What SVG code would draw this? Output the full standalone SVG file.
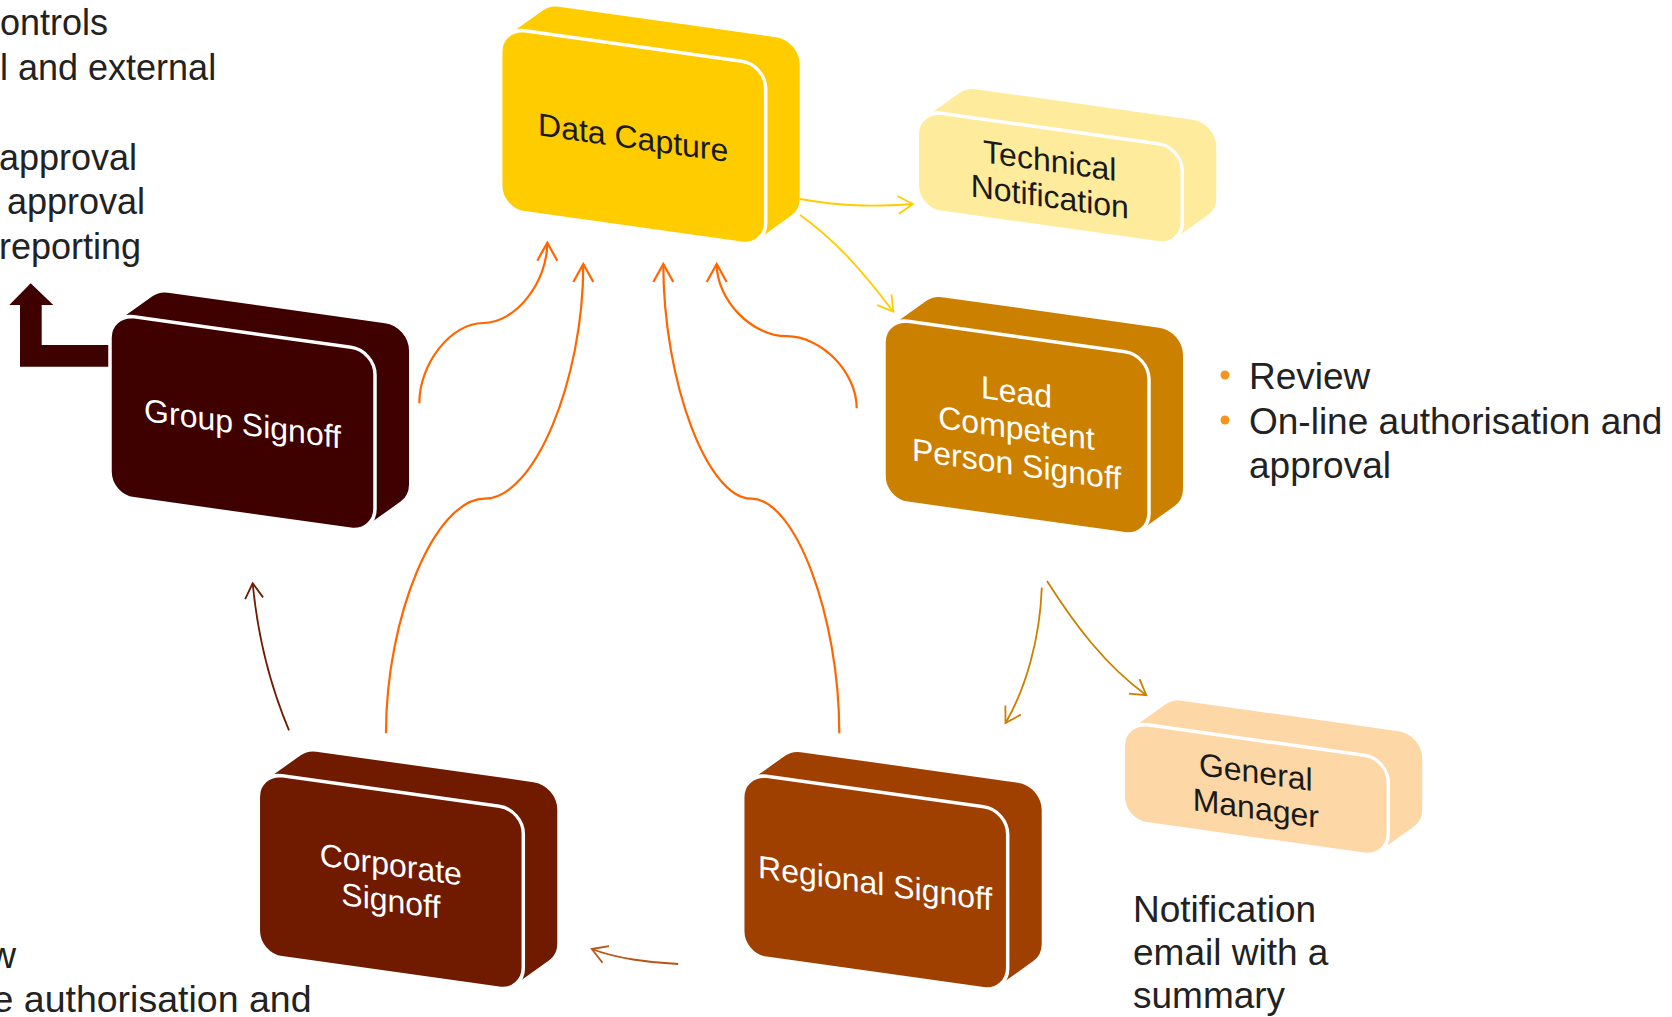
<svg xmlns="http://www.w3.org/2000/svg" width="1672" height="1017" viewBox="0 0 1672 1017">
  <style>
    .lbl{font-family:"Liberation Sans",Arial,sans-serif;font-size:32px;text-anchor:middle}
    .ink{fill:#1a1a1a}
    .rev{fill:#ffffff}
    .note{font-family:"Liberation Sans",Arial,sans-serif;font-size:37px;fill:#222222}
    .side{font-family:"Liberation Sans",Arial,sans-serif;font-size:36px;fill:#222222}
    .curve{fill:none;stroke-width:2.2}
    .thin{fill:none;stroke-width:1.8}
  </style>
  <defs>
    <!-- extruded block: swept hull behind, front face on top with a white seam -->
    <path id="hullBig" d="M24,158 L24,24 L58,-5 L275,-5 L275,129 L241,158 Z" fill="currentColor" stroke="currentColor" stroke-width="48" stroke-linejoin="round"/>
    <rect id="faceBig" x="0" y="0" width="265" height="182" rx="24" fill="currentColor" stroke="#ffffff" stroke-width="3.5"/>
    <path id="hullSmall" d="M24,75 L24,24 L58,-5 L275,-5 L275,46 L241,75 Z" fill="currentColor" stroke="currentColor" stroke-width="48" stroke-linejoin="round"/>
    <rect id="faceSmall" x="0" y="0" width="265" height="99" rx="24" fill="currentColor" stroke="#ffffff" stroke-width="3.5"/>

    <marker id="tipOrange" markerUnits="userSpaceOnUse" orient="auto" refX="0" refY="0" markerWidth="24" markerHeight="24" viewBox="-20 -12 24 24" overflow="visible">
      <path d="M-18,-10 L0,0 L-18,10" fill="none" stroke="#FF6600" stroke-width="2.2"/>
    </marker>
    <marker id="tipYellow" markerUnits="userSpaceOnUse" orient="auto" refX="0" refY="0" markerWidth="24" markerHeight="24" viewBox="-20 -12 24 24" overflow="visible">
      <path d="M-15,-9 L0,0 L-15,9" fill="none" stroke="#FFCC00" stroke-width="1.8"/>
    </marker>
    <marker id="tipGold" markerUnits="userSpaceOnUse" orient="auto" refX="0" refY="0" markerWidth="24" markerHeight="24" viewBox="-20 -12 24 24" overflow="visible">
      <path d="M-15,-9 L0,0 L-15,9" fill="none" stroke="#CC8000" stroke-width="1.8"/>
    </marker>
    <marker id="tipMaroon" markerUnits="userSpaceOnUse" orient="auto" refX="0" refY="0" markerWidth="24" markerHeight="24" viewBox="-20 -12 24 24" overflow="visible">
      <path d="M-15,-9 L0,0 L-15,9" fill="none" stroke="#701A00" stroke-width="1.8"/>
    </marker>
    <marker id="tipRust" markerUnits="userSpaceOnUse" orient="auto" refX="0" refY="0" markerWidth="24" markerHeight="24" viewBox="-20 -12 24 24" overflow="visible">
      <path d="M-15,-9 L0,0 L-15,9" fill="none" stroke="#B85418" stroke-width="1.8"/>
    </marker>
  </defs>

  <!-- side notes -->
  <g id="notes-top-left" class="side">
    <text x="0" y="35">ontrols</text>
    <text x="0" y="80">l and external</text>
    <text x="-1" y="169.5">approval</text>
    <text x="7" y="214">approval</text>
    <text x="-1" y="258.5">reporting</text>
  </g>
  <g id="notes-bottom-left" class="side" style="font-size:37.5px">
    <text x="-11" y="968">w</text>
    <text x="-7.5" y="1012">e authorisation and</text>
  </g>
  <g id="notes-lead" class="note">
    <circle cx="1225" cy="375" r="4.5" fill="#F7941D"/>
    <circle cx="1225" cy="420" r="4.5" fill="#F7941D"/>
    <text x="1249" y="389">Review</text>
    <text x="1249" y="433.5">On-line authorisation and</text>
    <text x="1249" y="478">approval</text>
  </g>
  <g id="notes-manager" class="note">
    <text x="1133" y="921.5">Notification</text>
    <text x="1133" y="964.5">email with a</text>
    <text x="1133" y="1007.5">summary</text>
  </g>

  <!-- connectors -->
  <g id="connectors">
    <path class="curve" stroke="#FF6600" marker-end="url(#tipOrange)" d="M419.3,403.3 C419.3,363.2 451.3,323 483.3,323 C515.3,323 547.3,282.9 547.3,242.7"/>
    <path class="curve" stroke="#FF6600" marker-end="url(#tipOrange)" d="M386,733.3 C386,616 435.3,498.7 484.7,498.7 C534,498.7 583.3,381.3 583.3,264"/>
    <path class="curve" stroke="#FF6600" marker-end="url(#tipOrange)" d="M839.3,733.3 C839.3,616 795.3,498.7 751.3,498.7 C707.3,498.7 663.3,381.3 663.3,264"/>
    <path class="curve" stroke="#FF6600" marker-end="url(#tipOrange)" d="M856.7,408.3 C856.7,372.2 821.7,336.2 786.7,336.2 C751.7,336.2 716.7,300.1 716.7,264"/>
    <path class="thin" stroke="#FFCC00" marker-end="url(#tipYellow)" d="M800,199 C840,206 870,207 913,204"/>
    <path class="thin" stroke="#FFCC00" marker-end="url(#tipYellow)" d="M800,215 C835,240 862,270 893.3,311.7"/>
    <path class="thin" stroke="#CC8000" marker-end="url(#tipGold)" d="M1041.8,587.5 C1040,640 1025,690 1005.5,723"/>
    <path class="thin" stroke="#CC8000" marker-end="url(#tipGold)" d="M1047,581 C1075,625 1105,665 1146.3,695.2"/>
    <path class="thin" stroke="#701A00" marker-end="url(#tipMaroon)" d="M289,730.4 C272,690 258,640 252.7,583.3"/>
    <path class="thin" stroke="#B85418" marker-end="url(#tipRust)" d="M678.2,964 C650,963 615,958 591.8,949"/>
  </g>

  <!-- bent-up arrow leaving Group Signoff -->
  <g id="group-up-arrow">
    <polygon points="20,366.7 20,305 9.3,305 30.7,283.3 53.3,305 41.7,305 41.7,345 115,345 115,366.7" fill="#3F0000"/>
  </g>

  <!-- nodes -->
  <g id="node-data-capture" transform="translate(500.7,27.5) skewY(8)" color="#FFCC00">
    <use href="#hullBig"/>
    <use href="#faceBig"/>
    <text class="lbl ink" x="132.5" y="102.5">Data Capture</text>
  </g>

  <g id="node-technical-notification" transform="translate(917.3,110) skewY(8)" color="#FFEB9C">
    <use href="#hullSmall"/>
    <use href="#faceSmall"/>
    <text class="lbl ink" x="132.5" y="43">Technical</text>
    <text class="lbl ink" x="132.5" y="79">Notification</text>
  </g>

  <g id="node-lead-signoff" transform="translate(884,318) skewY(8)" color="#CC8000">
    <use href="#hullBig"/>
    <use href="#faceBig"/>
    <text class="lbl rev" x="132.5" y="66.5">Lead</text>
    <text class="lbl rev" x="132.5" y="102.5">Competent</text>
    <text class="lbl rev" x="132.5" y="138.5">Person Signoff</text>
  </g>

  <g id="node-group-signoff" transform="translate(110,313.5) skewY(8)" color="#3F0000">
    <use href="#hullBig"/>
    <use href="#faceBig"/>
    <text class="lbl rev" x="132.5" y="102.5">Group Signoff</text>
  </g>

  <g id="node-corporate-signoff" transform="translate(258.3,772.5) skewY(8)" color="#701A00">
    <use href="#hullBig"/>
    <use href="#faceBig"/>
    <text class="lbl rev" x="132.5" y="84.5">Corporate</text>
    <text class="lbl rev" x="132.5" y="120.5">Signoff</text>
  </g>

  <g id="node-regional-signoff" transform="translate(742.7,773) skewY(8)" color="#A04000">
    <use href="#hullBig"/>
    <use href="#faceBig"/>
    <text class="lbl rev" x="132.5" y="102.5">Regional Signoff</text>
  </g>

  <g id="node-general-manager" transform="translate(1123.3,721.5) skewY(8)" color="#FDD7A5">
    <use href="#hullSmall"/>
    <use href="#faceSmall"/>
    <text class="lbl ink" x="132.5" y="43">General</text>
    <text class="lbl ink" x="132.5" y="79">Manager</text>
  </g>
</svg>
